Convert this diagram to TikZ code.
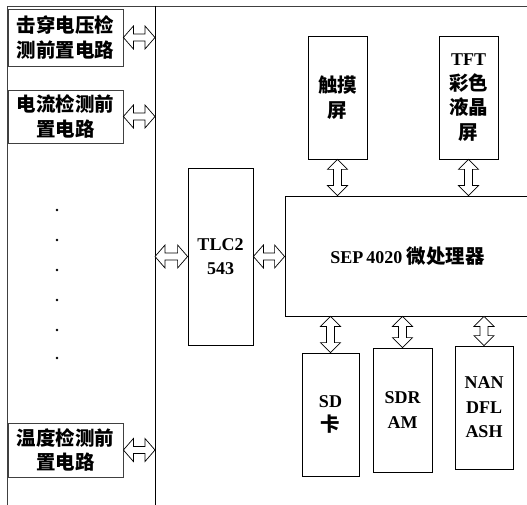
\documentclass[tikz,border=0pt]{standalone}
\usepackage{fontspec}
\setmainfont{Liberation Serif}
\newfontfamily\cjk[Scale=1.08]{Noto Sans CJK SC}
\usetikzlibrary{calc, positioning}

\tikzset{
  box/.style={draw, line width=0.8pt, inner sep=0pt, align=center,
    font=\fontsize{18}{24.5}\selectfont\bfseries},
  barr/.style={draw, line width=0.7pt, fill=white},
}
% hollow double arrows
\newcommand{\harr}[2]{\draw[barr] let \p1=#1, \p2=#2 in
  (\x1,\y1) -- (\x1+10pt,\y1+11.5pt) -- (\x1+10pt,\y1+3.5pt) -- (\x2-10pt,\y1+3.5pt)
  -- (\x2-10pt,\y1+11.5pt) -- (\x2,\y1) -- (\x2-10pt,\y1-11.5pt) -- (\x2-10pt,\y1-3.5pt)
  -- (\x1+10pt,\y1-3.5pt) -- (\x1+10pt,\y1-11.5pt) -- cycle;}
\newcommand{\varr}[2]{\draw[barr] let \p1=#1, \p2=#2 in
  (\x1,\y1) -- (\x1+10pt,\y1-10pt) -- (\x1+4pt,\y1-10pt) -- (\x1+4pt,\y2+10pt)
  -- (\x1+10pt,\y2+10pt) -- (\x1,\y2) -- (\x1-10pt,\y2+10pt) -- (\x1-4pt,\y2+10pt)
  -- (\x1-4pt,\y1-10pt) -- (\x1-10pt,\y1-10pt) -- cycle;}

\begin{document}
\begin{tikzpicture}[x=1pt, y=-1pt]
  \useasboundingbox (0,0) rectangle (527,505);

  % frame and bus
  \draw[line width=0.8pt, black!75] (7,505) -- (7,6) -- (530,6);
  \coordinate (bus) at (155,6);
  \draw[line width=0.8pt] (bus) -- (155,505);

  % front-end circuits
  \node[box, black!75, text=black, minimum width=115, minimum height=57] (brk) at (65.5,37.5) {\cjk 击穿电压检\\\cjk 测前置电路};
  \node[box, black!75, text=black, minimum width=115, minimum height=53] (cur) at (65.5,116.5) {\cjk 电流检测前\\\cjk 置电路};
  \node[box, black!75, text=black, minimum width=115, minimum height=54] (tmp) at (65.5,450) {\cjk 温度检测前\\\cjk 置电路};
  \foreach \y in {210,240,270,300,330,358}
    \fill (57,\y) circle (1.3pt);

  % ADC and processor
  \node[box, minimum width=65, minimum height=177] (adc) at (220.5,256.5) {TLC2\\543};
  \node[box, minimum width=245, minimum height=120] (cpu) at (407.5,256) {SEP\,4020 {\cjk 微处理器}};

  % peripherals
  \node[box, minimum width=59, minimum height=123] (touch) at (337.5,97.5) {\cjk 触摸\\\cjk 屏};
  \node[box, minimum width=59, minimum height=123] (lcd) at (468.5,97.5) {TFT\\\cjk 彩色\\\cjk 液晶\\\cjk 屏};
  \node[box, minimum width=57, minimum height=123] (sd) at (330.5,414.5) {SD\\\cjk 卡};
  \node[box, minimum width=59, minimum height=124] (ram) at (402.5,410) {SDR\\AM};
  \node[box, minimum width=58, minimum height=123] (nand) at (484,407.5) {NAN\\DFL\\ASH};

  % links
  \harr{(brk.east)}{(brk.east -| bus)}
  \harr{(cur.east)}{(cur.east -| bus)}
  \harr{(tmp.east)}{(tmp.east -| bus)}
  \harr{(adc.west -| bus)}{(adc.west)}
  \harr{(adc.east)}{(adc.east -| cpu.west)}
  \varr{(touch.south)}{(touch.south |- cpu.north)}
  \varr{(lcd.south)}{(lcd.south |- cpu.north)}
  \varr{(sd.north |- cpu.south)}{(sd.north)}
  \varr{(ram.north |- cpu.south)}{(ram.north)}
  \varr{(nand.north |- cpu.south)}{(nand.north)}
\end{tikzpicture}
\end{document}
